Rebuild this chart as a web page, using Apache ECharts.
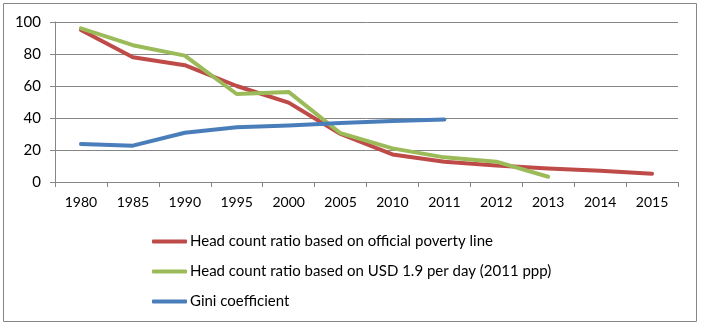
<!DOCTYPE html>
<html>
<head>
<meta charset="utf-8">
<script src="https://cdn.jsdelivr.net/npm/echarts@6/dist/echarts.min.js"></script>
<style>
html,body{margin:0;padding:0;background:#fff;}
#c{width:708px;height:332px;}
</style>
</head>
<body>
<div id="c"></div>
<script>
var categories = ['1980','1985','1990','1995','2000','2005','2010','2011','2012','2013','2014','2015'];
var officialLine = [95, 78, 73, 60, 49.6, 30, 17.2, 12.7, 10.3, 8.5, 7, 5.2];
var usd19 = [96, 85.5, 79, 55, 56.3, 30.5, 21, 15.4, 12.7, 3.3, null, null];
var gini = [23.7, 22.7, 30.8, 34.2, 35.3, 36.8, 38.2, 39, null, null, null, null];
var seriesNames = ['Head count ratio based on official poverty line', 'Head count ratio based on USD 1.9 per day (2011 ppp)', 'Gini coefficient'];
var colors = ['#BE4B48', '#9BBB59', '#4A7EBB'];

var chart = echarts.init(document.getElementById('c'), null, {renderer: 'canvas'});
var font = 'Lato';
function mk(name, data, color) {
  return {
    name: name, type: 'line', data: data, symbol: 'none',
    lineStyle: {color: color, width: 4, cap: 'round', join: 'round'},
    itemStyle: {color: color},
    connectNulls: false, animation: false
  };
}
chart.setOption({
  animation: false,
  color: colors,
  graphic: [{
    type: 'rect', shape: {x: 3.5, y: 3.5, width: 693, height: 318},
    style: {fill: 'none', stroke: '#868686', lineWidth: 1}, silent: true
  }],
  grid: {left: 55, right: 30, top: 22, bottom: 150, containLabel: false},
  legend: {
    orient: 'vertical', left: 147, top: 229,
    itemWidth: 35, itemHeight: 4, itemGap: 15,
    icon: 'roundRect',
    textStyle: {fontFamily: font, fontSize: 15, color: '#000', padding: [0,0,0,-2]},
    data: seriesNames.map(function(n, i){ return {name: n, icon: 'roundRect', itemStyle: {color: colors[i]}}; })
  },
  xAxis: {
    type: 'category', data: categories, boundaryGap: true,
    axisLine: {lineStyle: {color: '#868686', width: 1}},
    axisTick: {show: true, length: 5, lineStyle: {color: '#868686'}, alignWithLabel: false},
    axisLabel: {fontFamily: font, fontSize: 14, color: '#000', margin: 13}
  },
  yAxis: {
    type: 'value', min: 0, max: 100, interval: 20,
    axisLine: {show: true, lineStyle: {color: '#868686', width: 1}},
    axisTick: {show: true, length: 5, lineStyle: {color: '#868686'}},
    splitLine: {show: true, lineStyle: {color: '#868686', width: 1}},
    axisLabel: {fontFamily: font, fontSize: 15, color: '#000', margin: 14}
  },
  series: [
    mk(seriesNames[0], officialLine, colors[0]),
    mk(seriesNames[1], usd19, colors[1]),
    mk(seriesNames[2], gini, colors[2])
  ]
});
</script>
</body>
</html>
